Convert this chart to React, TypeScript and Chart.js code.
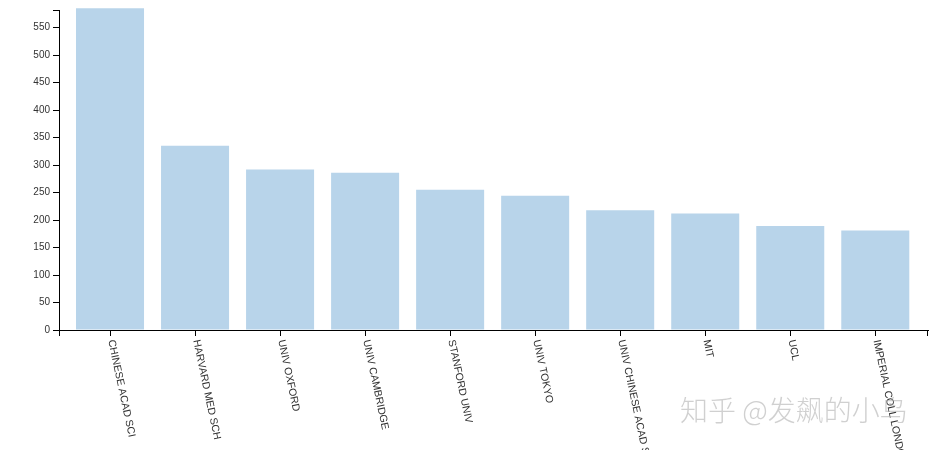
import React, { useEffect, useRef } from "react";
import { Chart, registerables } from "chart.js";

Chart.register(...registerables);

const categories = [
  "CHINESE ACAD SCI",
  "HARVARD MED SCH",
  "UNIV OXFORD",
  "UNIV CAMBRIDGE",
  "STANFORD UNIV",
  "UNIV TOKYO",
  "UNIV CHINESE ACAD SCI",
  "MIT",
  "UCL",
  "IMPERIAL COLL LONDON",
];
const counts = [585, 335, 292, 286, 255, 244, 218, 212, 189, 181];
const yTickValues = [0, 50, 100, 150, 200, 250, 300, 350, 400, 450, 500, 550];
const yAxisMax = 582;
const watermark = "知乎 @发飙的小鸟";

const FONT = "'Liberation Sans', Arial, sans-serif";
const X_MIN = -0.6;
const X_MAX = 9.62;

const labelPlugin = {
  id: "rotatedLabels",
  afterDraw(chart: any) {
    const ctx = chart.ctx;
    const xs = chart.scales.x;
    const { bottom, left, right } = chart.chartArea;
    ctx.save();
    // outer ticks at the ends of the x axis
    ctx.strokeStyle = "#000";
    ctx.lineWidth = 1;
    ctx.beginPath();
    ctx.moveTo(Math.round(left) + 0.5, bottom);
    ctx.lineTo(Math.round(left) + 0.5, bottom + 6);
    ctx.moveTo(Math.round(right) - 0.5, bottom);
    ctx.lineTo(Math.round(right) - 0.5, bottom + 6);
    ctx.stroke();

    ctx.fillStyle = "#333";
    ctx.font = `10.5px ${FONT}`;
    ctx.textAlign = "left";
    ctx.textBaseline = "middle";
    categories.forEach((c, i) => {
      const x = xs.getPixelForValue(i);
      ctx.save();
      ctx.translate(x + 1, bottom + 10);
      ctx.rotate((78 * Math.PI) / 180);
      ctx.fillText(c, 0, 0);
      ctx.restore();
    });
    ctx.font = `300 28px 'Noto Sans CJK SC', sans-serif`;
    ctx.fillStyle = "rgba(170,170,170,0.55)";
    ctx.textBaseline = "alphabetic";
    ctx.fillText(watermark, 680, 421);
    ctx.restore();
  },
};

export default function App() {
  const ref = useRef<HTMLCanvasElement | null>(null);
  useEffect(() => {
    if (!ref.current) return;
    const chart = new Chart(ref.current, {
      type: "bar",
      data: {
        datasets: [
          {
            data: counts.map((v, i) => ({ x: i, y: v })),
            backgroundColor: "#b8d4ea",
            borderWidth: 0,
            barPercentage: 0.8,
            categoryPercentage: 1,
            clip: false as any,
          },
        ],
      },
      options: {
        animation: false,
        responsive: false,
        layout: { padding: { left: 0, right: 5, top: 10, bottom: 0 } },
        plugins: { legend: { display: false }, tooltip: { enabled: false } },
        scales: {
          x: {
            type: "linear",
            offset: false,
            min: X_MIN,
            max: X_MAX,
            afterBuildTicks: (s: any) => {
              s.ticks = categories.map((_, i) => ({ value: i }));
            },
            afterFit: (s: any) => {
              s.height = 120;
            },
            ticks: { display: false },
            grid: {
              display: true,
              offset: false,
              drawOnChartArea: false,
              drawTicks: true,
              tickLength: 6,
              color: "#000",
            },
            border: { display: true, color: "#000", width: 1 },
          },
          y: {
            min: 0,
            max: yAxisMax,
            afterBuildTicks: (s: any) => {
              s.ticks = [...yTickValues.map((v) => ({ value: v })), { value: yAxisMax }];
            },
            afterFit: (s: any) => {
              s.width = 59;
            },
            ticks: {
              color: "#333",
              font: { family: FONT, size: 10 },
              padding: 3,
              callback: (v: any) => (yTickValues.includes(Number(v)) ? String(v) : ""),
            },
            grid: {
              display: true,
              drawOnChartArea: false,
              drawTicks: true,
              tickLength: 6,
              color: "#000",
            },
            border: { display: true, color: "#000", width: 1 },
          },
        },
      },
      plugins: [labelPlugin],
    });
    return () => chart.destroy();
  }, []);
  return (
    <div style={{ position: "absolute", left: 0, top: 0, width: 933, height: 450, background: "#fff" }}>
      <canvas ref={ref} width={933} height={450} style={{ width: 933, height: 450 }} />
    </div>
  );
}
